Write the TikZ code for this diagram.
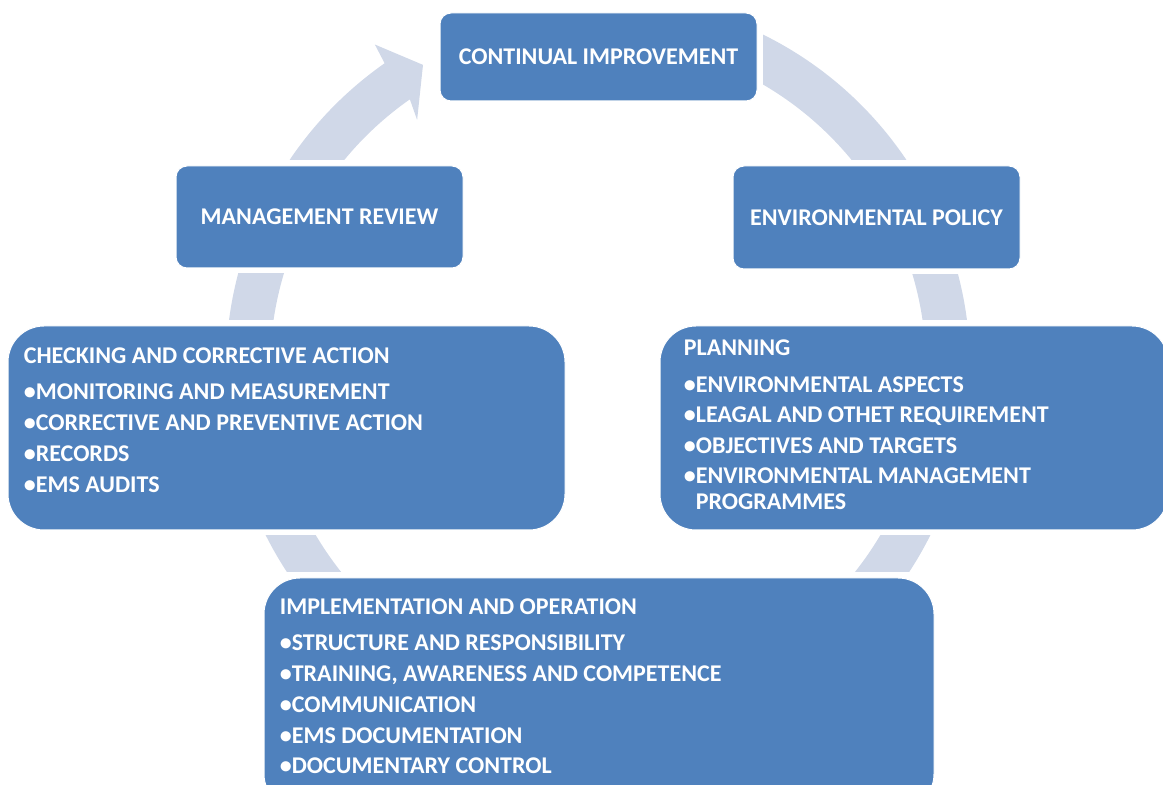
\documentclass[tikz,border=0pt]{standalone}
\usepackage{fontspec}
\setmainfont{Carlito}
\usetikzlibrary{backgrounds}
\definecolor{stageblue}{RGB}{79,129,189}
\definecolor{ringgrey}{RGB}{208,216,232}
\tikzset{stage/.style={rectangle, rounded corners=5.5pt, fill=stageblue, draw=white, line width=0.5pt, text=white, font=\bfseries\fontsize{12pt}{14pt}\selectfont, inner sep=0pt}}
\tikzset{bigstage/.style={stage, rounded corners=18pt}}
\tikzset{stagetext/.style={anchor=north west, inner sep=0pt, align=left, text=white, font=\bfseries\fontsize{12pt}{#1}\selectfont}}

\begin{document}
\begin{tikzpicture}[x=0.5pt, y=0.5pt]
\useasboundingbox (0,0) rectangle (1163,-785);

% boxes
\node[stage, minimum width=158.5pt, minimum height=44pt] (ci) at (598.5,-57) {CONTINUAL IMPROVEMENT};
\node[stage, minimum width=143.5pt, minimum height=51.5pt] (pol) at (876.5,-217.5) {ENVIRONMENTAL POLICY};
\node[stage, minimum width=143.5pt, minimum height=51pt] (rev) at (319.5,-217) {MANAGEMENT REVIEW};
\node[bigstage, minimum width=278.5pt, minimum height=102pt] (chk) at (286.5,-428) {};
\node[bigstage, minimum width=254pt, minimum height=102pt] (plan) at (914,-428) {};
\node[bigstage, minimum width=335pt, minimum height=116pt] (impl) at (599,-694) {};

% box texts
\node[stagetext=15.5pt] (chktext) at ([shift={(8pt,-11pt)}]chk.north west)
  {CHECKING AND CORRECTIVE ACTION\\[2.5pt]
   \textbullet MONITORING AND MEASUREMENT\\
   \textbullet CORRECTIVE AND PREVENTIVE ACTION\\
   \textbullet RECORDS\\
   \textbullet EMS AUDITS};
\node[stagetext=15.25pt] (plantext) at ([shift={(12pt,-6.8pt)}]plan.north west)
  {PLANNING\\[3.25pt]
   \textbullet ENVIRONMENTAL ASPECTS\\
   \textbullet LEAGAL AND OTHET REQUIREMENT\\
   \textbullet OBJECTIVES AND TARGETS\\
   \textbullet ENVIRONMENTAL MANAGEMENT\\[-2.25pt]
   \hphantom{\textbullet}PROGRAMMES};
\node[stagetext=15.4pt] (impltext) at ([shift={(8pt,-10.5pt)}]impl.north west)
  {IMPLEMENTATION AND OPERATION\\[2.6pt]
   \textbullet STRUCTURE AND RESPONSIBILITY\\
   \textbullet TRAINING, AWARENESS AND COMPETENCE\\
   \textbullet COMMUNICATION\\
   \textbullet EMS DOCUMENTATION\\
   \textbullet DOCUMENTARY CONTROL};

% cycle arrow behind the boxes
\begin{pgfonlayer}{background}
\begin{scope}[shift={(598,-368)}]
\fill[ringgrey] (70:372) arc[start angle=70, end angle=-235, radius=372]
  -- (-235.4:393) -- (-240:350) -- (-233.9:307) -- (-235:328)
  arc[start angle=-235, end angle=70, radius=328] -- cycle;
\end{scope}
\foreach \b in {ci,pol,rev,chk,plan,impl}
  \fill[white] ([shift={(-2.5pt,2.5pt)}]\b.north west) rectangle ([shift={(2.5pt,-2.5pt)}]\b.south east);
\end{pgfonlayer}
\end{tikzpicture}
\end{document}
